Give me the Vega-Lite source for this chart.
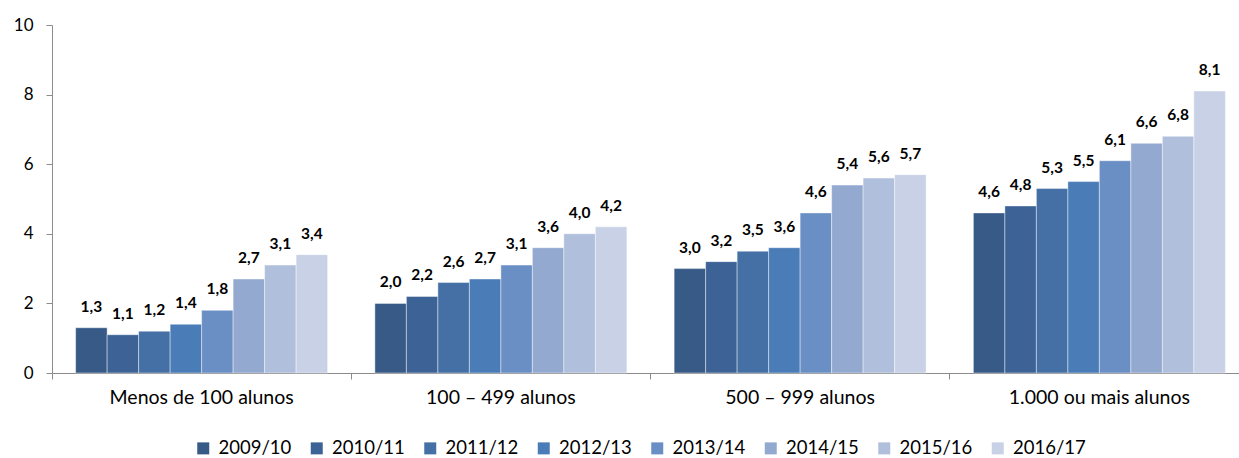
{
  "$schema": "https://vega.github.io/schema/vega-lite/v6.json",
  "width": 1187,
  "height": 348,
  "autosize": {"type": "none"},
  "padding": {"left": 52, "top": 25, "right": 0, "bottom": 85},
  "config": {
    "locale": {"number": {"decimal": ",", "thousands": ".", "grouping": [3], "currency": ["", ""]}},
    "view": {"stroke": null},
    "font": "Lato"
  },
  "data": {
    "values": [
      {"grupo": "Menos de 100 alunos", "ano": "2009/10", "valor": 1.3},
      {"grupo": "Menos de 100 alunos", "ano": "2010/11", "valor": 1.1},
      {"grupo": "Menos de 100 alunos", "ano": "2011/12", "valor": 1.2},
      {"grupo": "Menos de 100 alunos", "ano": "2012/13", "valor": 1.4},
      {"grupo": "Menos de 100 alunos", "ano": "2013/14", "valor": 1.8},
      {"grupo": "Menos de 100 alunos", "ano": "2014/15", "valor": 2.7},
      {"grupo": "Menos de 100 alunos", "ano": "2015/16", "valor": 3.1},
      {"grupo": "Menos de 100 alunos", "ano": "2016/17", "valor": 3.4},
      {"grupo": "100 – 499 alunos", "ano": "2009/10", "valor": 2.0},
      {"grupo": "100 – 499 alunos", "ano": "2010/11", "valor": 2.2},
      {"grupo": "100 – 499 alunos", "ano": "2011/12", "valor": 2.6},
      {"grupo": "100 – 499 alunos", "ano": "2012/13", "valor": 2.7},
      {"grupo": "100 – 499 alunos", "ano": "2013/14", "valor": 3.1},
      {"grupo": "100 – 499 alunos", "ano": "2014/15", "valor": 3.6},
      {"grupo": "100 – 499 alunos", "ano": "2015/16", "valor": 4.0},
      {"grupo": "100 – 499 alunos", "ano": "2016/17", "valor": 4.2},
      {"grupo": "500 – 999 alunos", "ano": "2009/10", "valor": 3.0},
      {"grupo": "500 – 999 alunos", "ano": "2010/11", "valor": 3.2},
      {"grupo": "500 – 999 alunos", "ano": "2011/12", "valor": 3.5},
      {"grupo": "500 – 999 alunos", "ano": "2012/13", "valor": 3.6},
      {"grupo": "500 – 999 alunos", "ano": "2013/14", "valor": 4.6},
      {"grupo": "500 – 999 alunos", "ano": "2014/15", "valor": 5.4},
      {"grupo": "500 – 999 alunos", "ano": "2015/16", "valor": 5.6},
      {"grupo": "500 – 999 alunos", "ano": "2016/17", "valor": 5.7},
      {"grupo": "1.000 ou mais alunos", "ano": "2009/10", "valor": 4.6},
      {"grupo": "1.000 ou mais alunos", "ano": "2010/11", "valor": 4.8},
      {"grupo": "1.000 ou mais alunos", "ano": "2011/12", "valor": 5.3},
      {"grupo": "1.000 ou mais alunos", "ano": "2012/13", "valor": 5.5},
      {"grupo": "1.000 ou mais alunos", "ano": "2013/14", "valor": 6.1},
      {"grupo": "1.000 ou mais alunos", "ano": "2014/15", "valor": 6.6},
      {"grupo": "1.000 ou mais alunos", "ano": "2015/16", "valor": 6.8},
      {"grupo": "1.000 ou mais alunos", "ano": "2016/17", "valor": 8.1}
    ]
  },
  "encoding": {
    "x": {
      "field": "grupo",
      "type": "nominal",
      "sort": ["Menos de 100 alunos", "100 – 499 alunos", "500 – 999 alunos", "1.000 ou mais alunos"],
      "scale": {"range": [0, 1197], "paddingInner": 0.158, "paddingOuter": 0.079},
      "axis": {
        "title": null,
        "labelAngle": 0,
        "bandPosition": -0.0937,
        "domainColor": "#8c8c8c",
        "tickColor": "#8c8c8c",
        "tickSize": 6,
        "labelFontSize": 19.5,
        "labelColor": "#000000",
        "labelPadding": 9,
        "labelLimit": 0
      }
    },
    "xOffset": {
      "field": "ano",
      "type": "nominal",
      "sort": ["2009/10", "2010/11", "2011/12", "2012/13", "2013/14", "2014/15", "2015/16", "2016/17"],
      "scale": {"paddingInner": 0, "paddingOuter": 0}
    },
    "y": {
      "field": "valor",
      "type": "quantitative",
      "scale": {"domain": [0, 10], "nice": false},
      "axis": {
        "title": null,
        "values": [0, 2, 4, 6, 8, 10],
        "grid": false,
        "domainColor": "#8c8c8c",
        "tickColor": "#8c8c8c",
        "tickSize": 6,
        "labelFontSize": 17,
        "labelColor": "#000000",
        "labelPadding": 13
      }
    }
  },
  "layer": [
    {
      "mark": {"type": "bar", "stroke": "#ffffff", "strokeWidth": 0.6, "strokeOpacity": 0.7},
      "encoding": {
        "color": {
          "field": "ano",
          "type": "nominal",
          "sort": ["2009/10", "2010/11", "2011/12", "2012/13", "2013/14", "2014/15", "2015/16", "2016/17"],
          "scale": {"range": ["#375a87", "#3d6396", "#4470a6", "#4a7cb7", "#6a8fc4", "#94a9d0", "#afbfdc", "#c8d1e6"]},
          "legend": {
            "title": null,
            "orient": "none",
            "legendX": 142,
            "legendY": 414,
            "padding": 0,
            "direction": "horizontal",
            "symbolType": "square",
            "symbolSize": 144,
            "symbolStrokeWidth": 0,
            "labelFontSize": 18.5,
            "labelColor": "#000000",
            "labelOffset": 6,
            "labelLimit": 0,
            "columnPadding": 15.5
          }
        }
      }
    },
    {
      "mark": {"type": "text", "baseline": "alphabetic", "dy": -16, "fontWeight": "bold", "fontSize": 15.5, "color": "#000000"},
      "encoding": {
        "text": {"field": "valor", "type": "quantitative", "format": ".1f"}
      }
    }
  ]
}
